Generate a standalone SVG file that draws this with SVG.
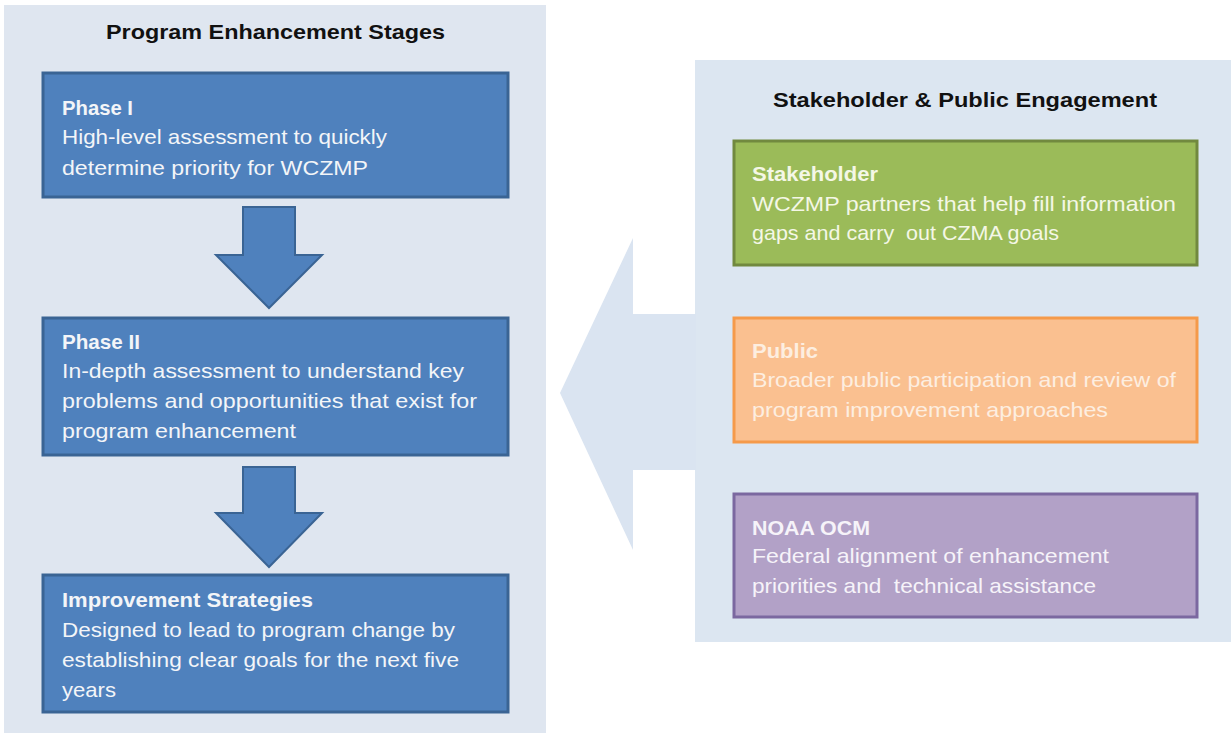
<svg xmlns="http://www.w3.org/2000/svg" width="1231" height="733" viewBox="0 0 1231 733">
  <style>
    text { font-family: "Liberation Sans", Arial, sans-serif; font-size: 21px; white-space: pre; }
    .title { font-weight: bold; fill: #111111; }
    .head { font-weight: bold; }
    .blue rect { fill: #4f81bd; stroke: #3a6494; stroke-width: 3; }
    .blue text { fill: #f3f5f8; }
    .green rect { fill: #9bbb59; stroke: #71893f; stroke-width: 3; }
    .green text { fill: #f4f7e6; }
    .orange rect { fill: #fac090; stroke: #f59a4a; stroke-width: 3; }
    .orange text { fill: #fdeee0; }
    .purple rect { fill: #b2a1c7; stroke: #7b68a0; stroke-width: 3; }
    .purple text { fill: #f6f3f9; }
    .down { fill: #4f81bd; stroke: #3a6494; stroke-width: 2; stroke-linejoin: miter; }
  </style>

  <rect x="0" y="0" width="1231" height="733" fill="#ffffff"/>

  <!-- Panels -->
  <g id="panel-left">
    <rect x="4" y="5" width="542" height="728" fill="#dfe6f0"/>
    <text class="title" x="106" y="39" textLength="339" lengthAdjust="spacingAndGlyphs">Program Enhancement Stages</text>
  </g>
  <g id="panel-right">
    <rect x="695" y="60" width="536" height="582" fill="#dce6f1"/>
    <text class="title" x="773" y="107" textLength="384" lengthAdjust="spacingAndGlyphs">Stakeholder &amp; Public Engagement</text>
  </g>

  <!-- Connectors -->
  <g id="connectors">
    <polygon points="560,393 633,238 633,314 696,314 696,470 633,470 633,550" fill="#dae4f1"/>
    <polygon class="down" points="243,207 295,207 295,255 322,255 269,308 216,255 243,255"/>
    <polygon class="down" points="243,467 295,467 295,513 322,513 269,567 216,513 243,513"/>
  </g>

  <!-- Left nodes -->
  <g id="phase1" class="blue">
    <rect x="43" y="73" width="465" height="124"/>
    <text class="head" x="62" y="115" textLength="71" lengthAdjust="spacingAndGlyphs">Phase I</text>
    <text x="62" y="144" textLength="325" lengthAdjust="spacingAndGlyphs">High-level assessment to quickly</text>
    <text x="62" y="175" textLength="306" lengthAdjust="spacingAndGlyphs">determine priority for WCZMP</text>
  </g>
  <g id="phase2" class="blue">
    <rect x="43" y="318" width="465" height="137"/>
    <text class="head" x="62" y="349" textLength="78" lengthAdjust="spacingAndGlyphs">Phase II</text>
    <text x="62" y="378" textLength="402" lengthAdjust="spacingAndGlyphs">In-depth assessment to understand key</text>
    <text x="62" y="408" textLength="415" lengthAdjust="spacingAndGlyphs">problems and opportunities that exist for</text>
    <text x="62" y="438" textLength="234" lengthAdjust="spacingAndGlyphs">program enhancement</text>
  </g>
  <g id="strategies" class="blue">
    <rect x="43" y="575" width="465" height="137"/>
    <text class="head" x="62" y="607" textLength="251" lengthAdjust="spacingAndGlyphs">Improvement Strategies</text>
    <text x="62" y="637" textLength="393" lengthAdjust="spacingAndGlyphs">Designed to lead to program change by</text>
    <text x="62" y="667" textLength="397" lengthAdjust="spacingAndGlyphs">establishing clear goals for the next five</text>
    <text x="62" y="697" textLength="54" lengthAdjust="spacingAndGlyphs">years</text>
  </g>

  <!-- Right nodes -->
  <g id="stakeholder" class="green">
    <rect x="734" y="141" width="463" height="124"/>
    <text class="head" x="752" y="181" textLength="126" lengthAdjust="spacingAndGlyphs">Stakeholder</text>
    <text x="752" y="211" textLength="424" lengthAdjust="spacingAndGlyphs">WCZMP partners that help fill information</text>
    <text x="752" y="240" textLength="307" lengthAdjust="spacingAndGlyphs">gaps and carry  out CZMA goals</text>
  </g>
  <g id="public" class="orange">
    <rect x="734" y="318" width="463" height="124"/>
    <text class="head" x="752" y="358" textLength="66" lengthAdjust="spacingAndGlyphs">Public</text>
    <text x="752" y="387" textLength="424" lengthAdjust="spacingAndGlyphs">Broader public participation and review of</text>
    <text x="752" y="417" textLength="356" lengthAdjust="spacingAndGlyphs">program improvement approaches</text>
  </g>
  <g id="noaa" class="purple">
    <rect x="734" y="494" width="463" height="123"/>
    <text class="head" x="752" y="535" textLength="118" lengthAdjust="spacingAndGlyphs">NOAA OCM</text>
    <text x="752" y="563" textLength="357" lengthAdjust="spacingAndGlyphs">Federal alignment of enhancement</text>
    <text x="752" y="593" textLength="344" lengthAdjust="spacingAndGlyphs">priorities and  technical assistance</text>
  </g>
</svg>
